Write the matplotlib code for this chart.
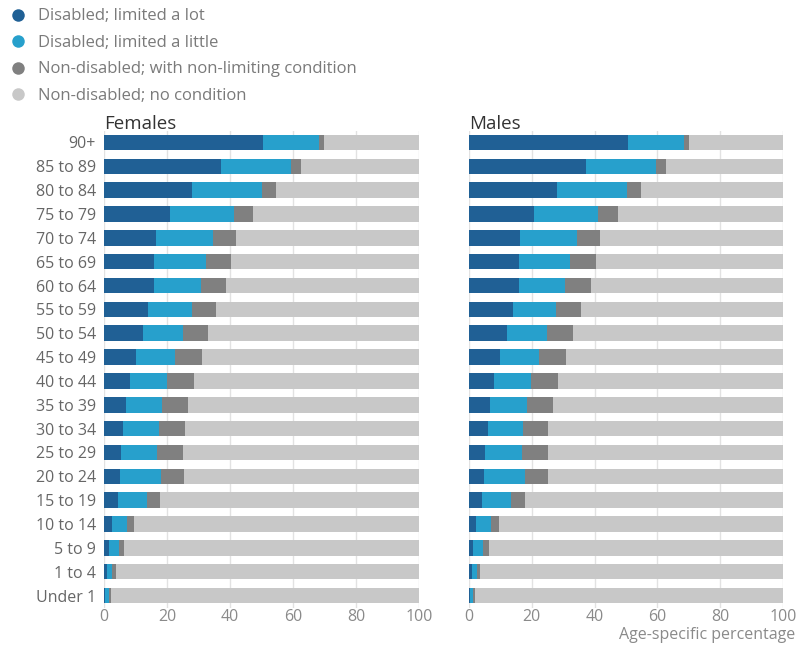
import matplotlib
matplotlib.use("Agg")
import matplotlib.pyplot as plt
from matplotlib.lines import Line2D
import numpy as np

plt.rcParams['font.family'] = ['Open Sans', 'DejaVu Sans']

age_groups = ["90+", "85 to 89", "80 to 84", "75 to 79", "70 to 74", "65 to 69",
              "60 to 64", "55 to 59", "50 to 54", "45 to 49", "40 to 44", "35 to 39",
              "30 to 34", "25 to 29", "20 to 24", "15 to 19", "10 to 14", "5 to 9",
              "1 to 4", "Under 1"]

series_names = ["Disabled; limited a lot", "Disabled; limited a little",
                "Non-disabled; with non-limiting condition", "Non-disabled; no condition"]

# Females: percentages per category
fem_lot = [50.6, 37.1, 28.0, 20.8, 16.4, 15.9, 15.9, 14.1, 12.3, 10.2,
           8.3, 7.0, 6.1, 5.3, 5.0, 4.4, 2.5, 1.6, 0.9, 0.4]
fem_little = [17.8, 22.3, 22.3, 20.5, 18.3, 16.5, 14.8, 13.7, 12.8, 12.4,
              11.8, 11.5, 11.4, 11.6, 13.0, 9.2, 4.7, 3.1, 1.7, 1.1]
fem_nonlim = [1.5, 3.2, 4.3, 6.1, 7.1, 7.9, 7.9, 7.9, 8.0, 8.4,
              8.5, 8.2, 8.1, 8.2, 7.5, 4.2, 2.3, 1.7, 1.3, 0.7]

# Males: percentages per category
mal_lot = [50.5, 37.2, 28.0, 20.8, 16.4, 15.9, 15.9, 14.0, 12.2, 9.9,
           8.0, 6.8, 6.0, 5.2, 4.8, 4.2, 2.3, 1.4, 0.9, 0.4]
mal_little = [18.0, 22.2, 22.3, 20.4, 17.9, 16.4, 14.7, 13.6, 12.7, 12.4,
              11.9, 11.6, 11.3, 11.6, 13.1, 9.2, 4.7, 3.0, 1.5, 0.9]
mal_nonlim = [1.6, 3.2, 4.4, 6.3, 7.4, 8.0, 8.1, 8.0, 8.2, 8.5,
              8.5, 8.2, 8.0, 8.2, 7.4, 4.5, 2.4, 1.9, 1.2, 0.6]

colors = ["#206095", "#27a0cc", "#808080", "#c8c8c8"]

fig = plt.figure(figsize=(8.07, 6.47), dpi=100)

ax_bottom = 1 - 607.5 / 647
ax_height = 477.0 / 647
axF = fig.add_axes([104 / 807, ax_bottom, 315 / 807, ax_height])
axM = fig.add_axes([469 / 807, ax_bottom, 314 / 807, ax_height])

y = np.arange(len(age_groups))

def draw(ax, lot, little, nonlim, title):
    lot = np.array(lot)
    little = np.array(little)
    nonlim = np.array(nonlim)
    rest = 100 - lot - little - nonlim
    left = np.zeros(len(lot))
    for vals, c in zip([lot, little, nonlim, rest], colors):
        ax.barh(y, vals, left=left, height=0.65, color=c, edgecolor='none', zorder=3)
        left = left + vals
    ax.set_xlim(0, 100)
    ax.set_ylim(len(age_groups) - 0.5, -0.5)
    ax.set_xticks([0, 20, 40, 60, 80, 100])
    ax.grid(axis='x', color='#e2e2e2', linewidth=1, zorder=0)
    ax.grid(axis='y', visible=False)
    for s in ax.spines.values():
        s.set_visible(False)
    ax.tick_params(axis='both', length=0, labelsize=11.5, colors='#8a8a8a')
    ax.tick_params(axis='x', pad=1)
    ax.set_yticks(y)
    ax.text(0, -0.58, title, fontsize=13.5, color='#333333', ha='left', va='baseline',
            transform=ax.transData)

draw(axF, fem_lot, fem_little, fem_nonlim, "Females")
axF.set_yticklabels(age_groups, color='#666666')
axF.tick_params(axis='y', pad=6)
draw(axM, mal_lot, mal_little, mal_nonlim, "Males")
axM.set_yticklabels([])

fig.text(795 / 807, 1 - 635 / 647, "Age-specific percentage", ha='right', va='center',
         fontsize=11.5, color='#8a8a8a')

handles = [Line2D([0], [0], marker='o', linestyle='none', markersize=9,
                  markerfacecolor=c, markeredgecolor='none') for c in colors]
fig.legend(handles, series_names, loc='upper left', bbox_to_anchor=(0.0, 1.0),
           frameon=False, fontsize=12, labelcolor='#7a7a7a', handletextpad=0.55,
           labelspacing=0.63, borderaxespad=0.1, handlelength=1.2)

fig.savefig("out.png", dpi=100)
